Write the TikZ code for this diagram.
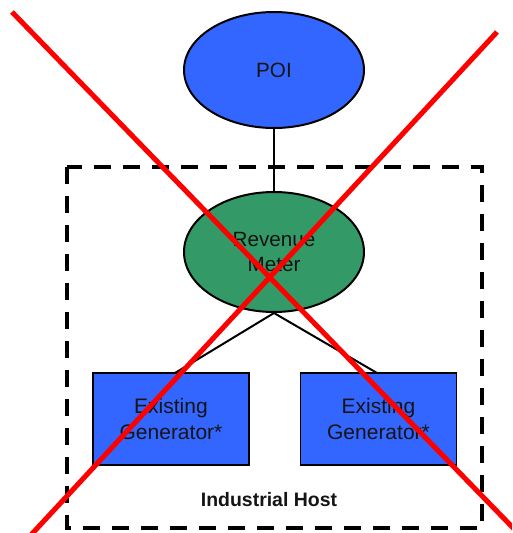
\documentclass[tikz,border=0pt]{standalone}
\usepackage{fontspec}
\setmainfont{Liberation Sans}
\usetikzlibrary{shapes.geometric}
\definecolor{nodeblue}{RGB}{51,102,255}
\definecolor{metergreen}{RGB}{51,153,102}
\definecolor{inktext}{RGB}{20,20,20}
\def\px{0.75pt}
\tikzset{
  oval/.style={ellipse, draw=black, line width=1.5pt, inner sep=0pt,
    minimum width={180*\px}, minimum height={118*\px}, text=inktext,
    font=\fontsize{15.5pt}{20pt}\selectfont, align=center},
  genbox/.style={rectangle, draw=black, line width=1.4pt, fill=nodeblue, inner sep=0pt,
    minimum width={156*\px}, minimum height={92*\px}, text=inktext,
    font=\fontsize{15.75pt}{18.8pt}\selectfont, align=center},
  link/.style={draw=black, line width=1.5pt},
  hostframe/.style={draw=black, line width=3pt, dash pattern=on 12.75pt off 9pt},
  cross/.style={draw=red, line width=3.8pt}
}
\begin{document}
\begin{tikzpicture}[x=0.75pt,y=-0.75pt]
\useasboundingbox (0,0) rectangle (512,533);
\clip (0,0) rectangle (512,533);

% industrial host boundary
\draw[hostframe] (67,167) rectangle (482,528);
\node[font=\fontsize{14.6pt}{17pt}\selectfont\bfseries, text=inktext] (host) at (269,500) {Industrial Host};

% point of interconnection and revenue meter
\node[oval, fill=nodeblue, minimum height={116*\px}] (poi) at (274,70) {POI};
\node[oval, fill=metergreen, minimum height={120*\px}] (rm) at (274,252) {Revenue\\[-1pt]Meter};
\draw[link] (poi.south) -- (rm.north);

% generators
\node[genbox] (g1) at (171,419) {Existing\\Generator*};
\node[genbox] (g2) at (378.5,419) {Existing\\Generator*};
\coordinate (g1top) at (175,373);
\coordinate (g2top) at (377,373);
\draw[link] (rm.south) -- (g1top);
\draw[link] (rm.south) -- (g2top);

% red cross-out
\coordinate (xa1) at (12,12);
\coordinate (xa2) at (520,535);
\coordinate (xb1) at (497,32);
\coordinate (xb2) at (30,536);
\draw[cross] (xa1) -- (xa2);
\draw[cross] (xb1) -- (xb2);
\end{tikzpicture}
\end{document}
